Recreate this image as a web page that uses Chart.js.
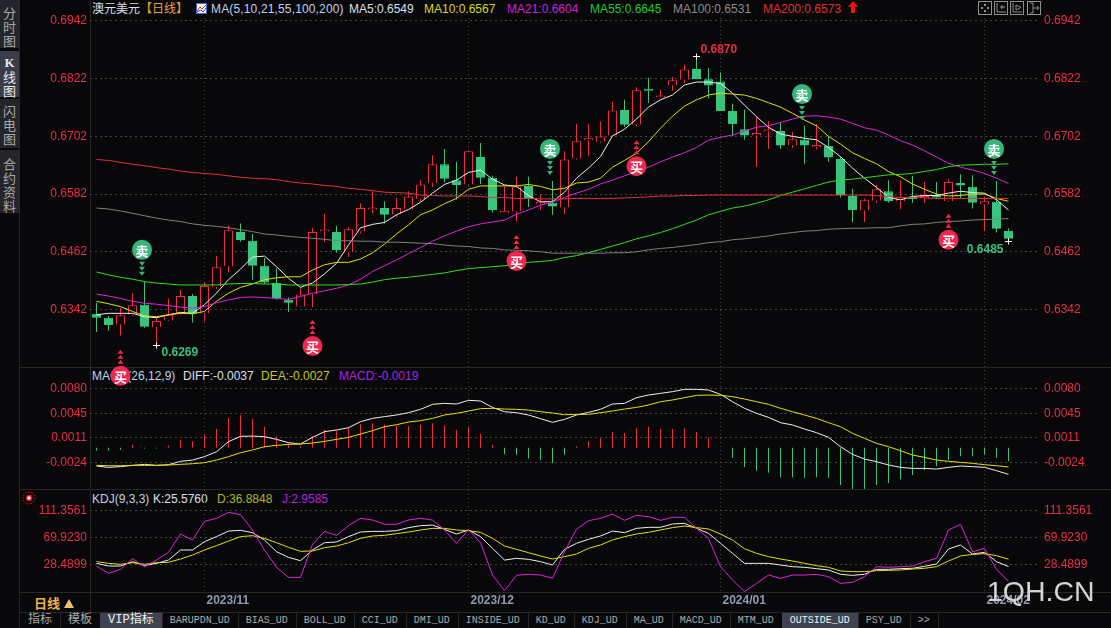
<!DOCTYPE html>
<html>
<head>
<meta charset="utf-8">
<title>澳元美元 日线</title>
<script src="https://cdn.jsdelivr.net/npm/chart.js@4"></script>
<style>
html, body { margin: 0; padding: 0; background: #08080a; overflow: hidden; }
body { width: 1111px; height: 628px; position: relative; font: 12px "Liberation Sans", "Noto Sans CJK SC", sans-serif; }
canvas { position: absolute; left: 0; top: 0; z-index: 2; }
.t { position: absolute; white-space: nowrap; line-height: 14px; z-index: 1; }
.side { position: absolute; left: 0; width: 19px; background: #24252b; color: #a8a8a8; text-align: center; font: 13px/14px "Noto Sans CJK SC"; z-index: 1; box-sizing: border-box; }
.hl { position: absolute; background: #262626; height: 1px; left: 20px; right: 0; z-index: 0; }
.vl { position: absolute; background: #262626; width: 1px; z-index: 0; }
#tabs { position: absolute; left: 20px; top: 613px; height: 15px; display: flex; z-index: 1; font: 10px/15px "Liberation Mono", "Noto Sans CJK SC"; color: #a8a8a8; }
#tabs div { padding: 0 8px; border-right: 1px solid #262626; margin-right: -1px; }
#tabs div.cn { font-size: 12px; }
#tabs div.on { background: #3f424f; color: #f0f0f0; }
#mark { position: absolute; left: 987px; top: 574px; font: 28.5px/34px "Liberation Sans"; color: #d4d4d4; z-index: 3; }
svg { position: absolute; z-index: 1; }
</style>
</head>
<body>
<div class="side" style="top:0;height:48px;padding-top:6px">分<br>时<br>图</div>
<div class="side" style="top:51px;height:46px;padding-top:4px;background:#3a3c47;color:#e8e8e8"><b style="font-family:'Liberation Serif'">K</b><br>线<br>图</div>
<div class="side" style="top:99px;height:49px;padding-top:5px">闪<br>电<br>图</div>
<div class="side" style="top:150px;height:63px;padding-top:7px">合<br>约<br>资<br>料</div>
<div class="vl" style="left:19px;top:0;height:628px"></div>
<div class="vl" style="left:90px;top:0;height:612px"></div>
<div class="hl" style="top:367px"></div>
<div class="hl" style="top:489px"></div>
<div class="hl" style="top:592px"></div>
<div class="hl" style="top:612px"></div>

<span class="t" style="left:92px;top:2px;color:#d8e0ea">澳元美元</span>
<span class="t" style="left:140px;top:2px;color:#e8a23a">【日线】</span>
<svg style="left:196px;top:3px" width="11" height="11"><rect x=".5" y=".5" width="10" height="10" fill="#fff" stroke="#4060c0"/><path d="M1 8 4 4 6 6 10 2" stroke="#e02020" fill="none"/><path d="M1 9 5 7 7 9 10 5" stroke="#2040c0" fill="none"/></svg>
<span class="t" style="left:211px;top:2px;color:#bcd2ea;letter-spacing:.15px">MA(5,10,21,55,100,200)</span>
<span class="t" style="left:349px;top:2px;color:#d8e0ea">MA5:0.6549</span>
<span class="t" style="left:424px;top:2px;color:#d8d820">MA10:0.6567</span>
<span class="t" style="left:507px;top:2px;color:#d020d8">MA21:0.6604</span>
<span class="t" style="left:590px;top:2px;color:#20c830">MA55:0.6645</span>
<span class="t" style="left:673px;top:2px;color:#8c8c8c">MA100:0.6531</span>
<span class="t" style="left:763px;top:2px;color:#e03030">MA200:0.6573</span>
<svg style="left:848px;top:1px" width="10" height="12"><path d="M5 0 10 6H7V12H3V6H0Z" fill="#f01010"/></svg>
<svg style="left:978px;top:1px" width="64" height="15" fill="none" stroke="#909090">
<rect x=".5" y=".5" width="13" height="13"/><rect x="16.5" y=".5" width="13" height="13"/><rect x="32.5" y=".5" width="13" height="13"/><rect x="49.5" y=".5" width="13" height="13"/>
<path d="M7 3V5M7 9V11M3 7H5M9 7H11" stroke-width="2"/>
<path d="M19 2V11H28M22 6H27M24 4V8"/><path d="M35 2V11H44M38 4V9L43 6.5Z"/><path d="M52 2H55V12H52M55 7H61M59 5 61 7 59 9"/>
</svg>

<span class="t" style="left:92px;top:369px;color:#bcd2ea">MACD(26,12,9)</span>
<span class="t" style="left:183px;top:369px;color:#d8e0ea">DIFF:-0.0037</span>
<span class="t" style="left:261px;top:369px;color:#c8c820">DEA:-0.0027</span>
<span class="t" style="left:339px;top:369px;color:#b020e0">MACD:-0.0019</span>

<svg style="left:22px;top:491px" width="14" height="14"><circle cx="7" cy="7" r="2.5" fill="#fff" stroke="#f01010" stroke-width="1.5"/><circle cx="7" cy="7" r="6" fill="none" stroke="#f01010" stroke-dasharray="1.5 1.5"/></svg>
<span class="t" style="left:92px;top:492px;color:#bcd2ea">KDJ(9,3,3)</span>
<span class="t" style="left:153px;top:492px;color:#d8e0ea">K:25.5760</span>
<span class="t" style="left:217px;top:492px;color:#a8b820">D:36.8848</span>
<span class="t" style="left:282px;top:492px;color:#b020e0">J:2.9585</span>

<span class="t" style="left:34px;top:596px;color:#f0b050;font:bold 13px/14px 'Noto Sans CJK SC'">日线</span>
<svg style="left:64px;top:599px" width="10" height="9"><path d="M5 0 10 9H0Z" fill="#f0c070"/></svg>

<div id="tabs"><div class="cn">指标</div><div class="cn">模板</div><div class="cn on">VIP指标</div><div>BARUPDN_UD</div><div>BIAS_UD</div><div>BOLL_UD</div><div>CCI_UD</div><div>DMI_UD</div><div>INSIDE_UD</div><div>KD_UD</div><div>KDJ_UD</div><div>MA_UD</div><div>MACD_UD</div><div>MTM_UD</div><div class="on">OUTSIDE_UD</div><div>PSY_UD</div><div>&gt;&gt;</div></div>
<div id="mark">1QH.CN</div>

<canvas id="kline" width="1111" height="628"></canvas>

<script>
// candles
var opens = [.6333,.6325,.6311,.6331,.6352,.6305,.6319,.6333,.6370,.6334,
  .6388,.6432,.6503,.6485,.6433,.6397,.6362,.6348,.6374,.6504,
  .6503,.6461,.6504,.6550,.6553,.6540,.6551,.6572,.6605,.6644,
  .6611,.6602,.6659,.6616,.6543,.6546,.6599,.6562,.6564,.6554,
  .6656,.6694,.6691,.6704,.6757,.6726,.6798,.6783,.6808,.6820,
  .6842,.6821,.6816,.6755,.6717,.6704,.6712,.6713,.6683,.6695,
  .6680,.6682,.6655,.6578,.6548,.6568,.6588,.6567,.6577,.6573,
  .6580,.6567,.6605,.6597,.6561,.6566,.6505];
var closes = [.6325,.6310,.6330,.6351,.6306,.6318,.6331,.6370,.6333,.6391,
  .6430,.6507,.6486,.6433,.6398,.6365,.6356,.6373,.6503,.6505,
  .6465,.6509,.6553,.6553,.6539,.6553,.6577,.6602,.6644,.6614,
  .6601,.6671,.6616,.6549,.6546,.6598,.6573,.6564,.6556,.6654,
  .6692,.6698,.6702,.6756,.6726,.6798,.6797,.6787,.6819,.6841,
  .6821,.6808,.6755,.6728,.6704,.6709,.6715,.6683,.6696,.6683,
  .6682,.6658,.6580,.6549,.6569,.6592,.6567,.6575,.6572,.6578,
  .6575,.6607,.6600,.6564,.6567,.6510,.6489];
var highs = [.6356,.6329,.6345,.6376,.6400,.6325,.6365,.6383,.6374,.6399,
  .6453,.6517,.6521,.6499,.6449,.6428,.6367,.6386,.6511,.6541,
  .6516,.6513,.6563,.6588,.6567,.6574,.6588,.6611,.6663,.6676,
  .6649,.6672,.6688,.6620,.6598,.6618,.6618,.6580,.6609,.6671,
  .6728,.6728,.6733,.6774,.6778,.6804,.6824,.6799,.6826,.6851,
  .6870,.6844,.6835,.6770,.6758,.6743,.6734,.6731,.6711,.6724,
  .6728,.6702,.6660,.6593,.6573,.6601,.6611,.6611,.6620,.6607,
  .6607,.6613,.6623,.6621,.6577,.6609,.6511];
var lows = [.6295,.6298,.6288,.6329,.6304,.6269,.6318,.6331,.6315,.6317,
  .6385,.6419,.6483,.6404,.6395,.6362,.6337,.6348,.6347,.6483,
  .6460,.6451,.6500,.6542,.6521,.6535,.6550,.6566,.6596,.6606,
  .6571,.6600,.6603,.6543,.6543,.6525,.6555,.6549,.6539,.6541,
  .6654,.6661,.6689,.6703,.6722,.6723,.6772,.6783,.6797,.6813,
  .6821,.6781,.6755,.6703,.6695,.6639,.6676,.6676,.6678,.6645,
  .6675,.6649,.6575,.6524,.6524,.6564,.6564,.6551,.6564,.6564,
  .6573,.6566,.6573,.6552,.6505,.6502,.6485];

// moving averages
var ma5 = [.6331,.6334,.6334,.6334,.6327,.6325,.6331,.6336,.6334,.6352,
  .6376,.6404,.6426,.6451,.6453,.6431,.6407,.6388,.6397,.6416,
  .6438,.6476,.6512,.6519,.6523,.6539,.6550,.6565,.6584,.6602,
  .6611,.6627,.6632,.6613,.6601,.6598,.6579,.6566,.6566,.6586,
  .6615,.6636,.6660,.6703,.6717,.6738,.6763,.6778,.6788,.6809,
  .6815,.6815,.6812,.6792,.6767,.6743,.6721,.6707,.6702,.6698,
  .6695,.6679,.6660,.6636,.6615,.6596,.6575,.6570,.6577,.6579,
  .6579,.6584,.6588,.6585,.6584,.6570,.6549];
var ma10 = [.6359,.6354,.6348,.6338,.6329,.6327,.6331,.6334,.6333,.6338,
  .6359,.6376,.6388,.6395,.6404,.6408,.6410,.6410,.6424,.6435,
  .6440,.6440,.6447,.6460,.6478,.6499,.6518,.6539,.6549,.6562,
  .6573,.6592,.6599,.6599,.6599,.6599,.6602,.6598,.6591,.6594,
  .6605,.6607,.6615,.6638,.6652,.6667,.6691,.6719,.6744,.6765,
  .6778,.6788,.6792,.6790,.6788,.6781,.6772,.6763,.6750,.6736,
  .6724,.6702,.6686,.6668,.6656,.6645,.6629,.6618,.6603,.6592,
  .6582,.6578,.6579,.6582,.6582,.6573,.6567];
var ma21 = [.6374,.6370,.6365,.6359,.6355,.6353,.6350,.6347,.6345,.6348,
  .6356,.6362,.6367,.6368,.6367,.6365,.6363,.6369,.6376,.6381,
  .6386,.6393,.6405,.6421,.6433,.6445,.6458,.6471,.6484,.6495,
  .6505,.6514,.6520,.6524,.6528,.6540,.6549,.6559,.6565,.6575,
  .6584,.6592,.6603,.6611,.6620,.6629,.6638,.6649,.6659,.6668,
  .6679,.6694,.6700,.6705,.6713,.6721,.6724,.6731,.6738,.6744,
  .6745,.6742,.6738,.6729,.6720,.6715,.6705,.6693,.6684,.6672,
  .6659,.6646,.6638,.6632,.6625,.6615,.6604];
var ma55 = [.6420,.6414,.6409,.6405,.6400,.6397,.6395,.6393,.6393,.6393,
  .6393,.6395,.6396,.6396,.6395,.6395,.6393,.6393,.6393,.6393,
  .6393,.6394,.6395,.6399,.6404,.6407,.6409,.6412,.6415,.6418,
  .6423,.6427,.6429,.6431,.6433,.6436,.6440,.6442,.6444,.6450,
  .6454,.6460,.6467,.6474,.6481,.6489,.6495,.6502,.6510,.6519,
  .6528,.6539,.6546,.6553,.6557,.6563,.6570,.6579,.6586,.6593,
  .6600,.6607,.6611,.6613,.6616,.6619,.6622,.6623,.6625,.6629,
  .6633,.6639,.6642,.6643,.6644,.6644,.6645];
var ma100 = [.6553,.6551,.6547,.6542,.6537,.6532,.6528,.6525,.6520,.6517,
  .6515,.6512,.6508,.6504,.6499,.6497,.6494,.6492,.6490,.6488,
  .6485,.6485,.6484,.6484,.6482,.6482,.6481,.6480,.6479,.6476,
  .6474,.6473,.6470,.6469,.6466,.6465,.6464,.6462,.6459,.6459,
  .6459,.6459,.6459,.6460,.6460,.6462,.6466,.6469,.6471,.6474,
  .6477,.6481,.6483,.6487,.6489,.6492,.6495,.6499,.6502,.6505,
  .6506,.6509,.6510,.6511,.6511,.6512,.6512,.6516,.6519,.6520,
  .6523,.6525,.6526,.6528,.6529,.6530,.6531];
var ma200 = [.6654,.6652,.6648,.6644,.6641,.6637,.6634,.6630,.6627,.6625,
  .6623,.6620,.6617,.6615,.6614,.6612,.6608,.6605,.6603,.6600,
  .6598,.6594,.6592,.6589,.6586,.6585,.6584,.6580,.6579,.6578,
  .6578,.6578,.6577,.6575,.6575,.6573,.6573,.6572,.6572,.6572,
  .6573,.6573,.6573,.6573,.6574,.6575,.6576,.6578,.6578,.6579,
  .6579,.6580,.6580,.6580,.6580,.6580,.6580,.6580,.6580,.6580,
  .6580,.6580,.6580,.6580,.6580,.6579,.6577,.6575,.6575,.6574,
  .6573,.6573,.6573,.6573,.6573,.6573,.6573];

// MACD panel
var macdHist = [-.0004,-.0004,-.0003,.0004,-.0001,-.0001,.0003,.0011,.0009,.0018,
  .0026,.0041,.0045,.0040,.0029,.0016,.0006,.0002,.0016,.0025,
  .0024,.0028,.0033,.0034,.0032,.0031,.0030,.0032,.0034,.0031,
  .0025,.0028,.0019,.0004,-.0009,-.0010,-.0015,-.0017,-.0021,-.0010,
  .0002,.0009,.0013,.0022,.0020,.0027,.0029,.0026,.0026,.0027,
  .0022,.0014,0,-.0014,-.0027,-.0032,-.0035,-.0041,-.0041,-.0042,
  -.0041,-.0042,-.0052,-.0058,-.0058,-.0052,-.0049,-.0044,-.0038,-.0031,
  -.0026,-.0017,-.0012,-.0012,-.0009,-.0014,-.0019];
var diff = [-.00255,-.00274,-.00264,-.00246,-.00232,-.00246,-.00237,-.00190,-.00172,-.00125,
  -.00056,.00084,.00158,.00162,.00153,.00116,.00070,.00051,.00144,.00223,
  .00246,.00278,.00362,.00408,.00432,.00455,.00487,.00534,.00603,.00617,
  .00608,.00659,.00650,.00561,.00501,.00487,.00455,.00404,.00353,.00394,
  .00455,.00492,.00534,.00608,.00617,.00696,.00733,.00756,.00780,.00812,
  .00812,.00803,.00742,.00640,.00548,.00478,.00422,.00348,.00316,.00260,
  .00209,.00144,.00014,-.00093,-.00158,-.00195,-.00241,-.00274,-.00288,-.00288,
  -.00297,-.00274,-.00255,-.00264,-.00274,-.00320,-.00371];
var dea = [-.00246,-.00251,-.00251,-.00246,-.00246,-.00246,-.00241,-.00232,-.00223,-.00209,
  -.00172,-.00125,-.00070,-.00032,.00014,.00032,.00046,.00051,.00065,.00088,
  .00116,.00144,.00190,.00237,.00292,.00320,.00357,.00376,.00408,.00455,
  .00478,.00510,.00543,.00548,.00538,.00534,.00524,.00501,.00483,.00459,
  .00464,.00464,.00487,.00510,.00538,.00561,.00594,.00640,.00664,.00696,
  .00728,.00733,.00728,.00710,.00677,.00640,.00603,.00548,.00501,.00455,
  .00408,.00348,.00292,.00200,.00130,.00060,.00014,-.00042,-.00102,-.00135,
  -.00172,-.00190,-.00204,-.00218,-.00237,-.00251,-.00269];

// KDJ panel
var kLine = [30.5,26.4,26.4,33.1,27.0,30.5,35.6,51.0,51.0,63.8,
  71.5,80.1,81.2,77.6,66.3,48.4,39.7,34.6,51.0,62.2,
  63.3,71.5,78.6,79.6,79.6,80.7,85.3,88.3,89.3,82.7,
  75.5,81.7,71.5,53.6,35.6,38.2,36.7,33.1,28.0,52.0,
  61.2,67.4,72.5,80.1,77.6,84.2,85.8,85.8,90.9,91.9,
  84.2,76.6,61.2,45.9,30.5,30.5,30.5,28.0,25.4,24.4,
  22.4,20.3,13.7,12.1,13.7,21.3,21.3,22.4,22.9,25.9,
  29.5,52.5,58.7,44.9,47.4,33.1,25.6];
var dLine = [33.1,30.5,29.0,31.6,29.0,31.6,32.1,37.2,43.3,51.0,
  57.6,64.8,71.5,73.0,68.9,62.2,55.1,49.0,49.5,54.6,
  57.1,62.2,68.9,72.5,73.5,76.1,78.6,81.7,84.2,84.2,
  81.7,80.7,78.1,68.9,57.1,52.0,46.9,41.8,37.2,40.8,
  44.9,53.6,58.7,66.3,71.5,75.5,78.1,81.7,85.3,87.8,
  85.3,83.2,75.5,66.3,53.0,45.9,40.8,37.2,34.1,30.5,
  27.0,24.4,18.8,17.8,17.8,19.3,19.8,20.3,21.8,22.9,
  25.4,34.1,41.8,44.3,45.4,42.3,36.9];
var jLine = [26.4,15.2,21.3,37.7,25.4,35.6,47.4,75.5,66.3,95.0,
  99.6,108.8,105.2,81.7,51.0,24.4,9.0,9.0,59.7,79.6,
  73.5,88.3,99.6,97.0,90.4,90.4,97.0,99.6,97.0,81.7,
  61.2,81.7,62.2,12.6,-11.4,12.1,13.7,12.6,7.5,48.4,
  82.7,96.0,99.6,106.2,96.5,104.2,102.1,96.5,101.1,101.1,
  84.2,68.9,25.4,4.9,-12.9,-0.2,12.6,7.5,12.6,12.6,
  13.7,10.1,-0.2,1.4,10.1,25.4,24.4,25.4,26.4,33.1,
  38.2,81.7,90.4,48.4,53.6,21.3,3.0];

// axis ticks
var priceTicks = [.6942,.6822,.6702,.6582,.6462,.6342];
var priceLabels = ['0.6942','0.6822','0.6702','0.6582','0.6462','0.6342'];
// the terminal draws these four labels about 2px above their true level
var macdTicks = [.00827,.00479,.00139,-.00209];
var macdLabels = ['0.0080','0.0045','0.0011','-0.0024'];
var kdjTicks = [111.3561,69.9230,28.4899];
var kdjLabels = ['111.3561','69.9230','28.4899'];
var dateTicks = [9,31,52,74];
var dateLabels = ['2023/11','2023/12','2024/01','2024/02'];

// signals and extremes on the price panel
var buyIdx = [2,18,35,45,71];
var buyPrice = [.6204,.6266,.6443,.6640,.6487];
var sellIdx = [4,38,59,75];
var sellPrice = [.6466,.6676,.6790,.6676];
var markIdx = [5,50,76];
var markPrice = [.6269,.6870,.6485];

var RED = '#ee2b45', GREEN = '#38c47e', BG = '#08080a', GRID = '#444444';

function pts(arr) { return arr.map(function (v, i) { return { x: i, y: v }; }); }
function candle(a, b) { return opens.map(function (v, i) { return { x: i, y: [a[i], b[i]] }; }); }
function isUp(i) { return closes[i] >= opens[i]; }

function line(arr, color, axis) {
    return { type: 'line', data: pts(arr), borderColor: color, borderWidth: 1, pointRadius: 0, tension: 0, yAxisID: axis, order: 1 };
}

function yAxis(pos, stackOrder, weight, min, max, ticks, labels) {
    return {
        type: 'linear', position: pos, stack: 'panels', stackWeight: weight, weight: stackOrder,
        min: min, max: max,
        afterBuildTicks: function (s) { s.ticks = ticks.map(function (v) { return { value: v }; }); },
        afterFit: function (s) { s.width = pos == 'left' ? 90 : 71; },
        ticks: { color: RED, autoSkip: false, padding: pos == 'left' ? 3 : 4, font: { family: 'Liberation Sans', size: 12 },
            callback: function (v, i) { return labels[i]; } },
        grid: { display: pos == 'left', color: GRID, drawTicks: false },
        border: { display: false, dash: [2, 3] }
    };
}

// buy / sell bubbles, the white ticks at extremes and their prices
var marksPlugin = {
    id: 'marks',
    afterDatasetsDraw: function (chart) {
        var c = chart.ctx, xs = chart.scales.x, ys = chart.scales.y;
        c.save();
        markIdx.forEach(function (ix, n) {
            var x = xs.getPixelForValue(ix), y = Math.round(ys.getPixelForValue(markPrice[n])) + .5;
            c.strokeStyle = '#fff';
            c.lineWidth = 1;
            c.beginPath();
            c.moveTo(x - 3.5, y); c.lineTo(x + 3.5, y);
            c.moveTo(x, y - 3); c.lineTo(x, y + 3);
            c.stroke();
            c.font = 'bold 12px "Liberation Sans"';
            c.textBaseline = 'middle';
            c.textAlign = 'left';
            if (ix == 50) { c.fillStyle = RED; c.fillText(markPrice[n].toFixed(4), x + 4, y - 7); }
            else if (ix == 5) { c.fillStyle = GREEN; c.fillText(markPrice[n].toFixed(4), x + 5, y + 7); }
            else { c.fillStyle = GREEN; c.textAlign = 'right'; c.fillText(markPrice[n].toFixed(4), x - 5, y + 8); }
        });
        function bubble(ix, price, color, text, dirn, dx) {
            var x = xs.getPixelForValue(ix) + dx, y = ys.getPixelForValue(price);
            c.fillStyle = color;
            [1, 2, 3].forEach(function (k) {
                var ay = y + dirn * (9 + k * 5);
                c.beginPath();
                c.moveTo(x - 3, ay - dirn * 2);
                c.lineTo(x + 3, ay - dirn * 2);
                c.lineTo(x, ay + dirn * 2);
                c.closePath();
                c.fill();
            });
            c.beginPath();
            c.arc(x, y, 10, 0, Math.PI * 2);
            c.fill();
            c.fillStyle = '#fff';
            c.font = 'bold 13px "Noto Sans CJK SC"';
            c.textAlign = 'center';
            c.textBaseline = 'middle';
            c.fillText(text, x, y + 1);
        }
        buyIdx.forEach(function (ix, n) { bubble(ix, buyPrice[n], '#f0274f', '买', -1, 0); });
        sellIdx.forEach(function (ix, n) { bubble(ix, sellPrice[n], '#38b57a', '卖', 1, -2.5); });
        c.restore();
    }
};

var chart = new Chart(document.getElementById('kline').getContext('2d'), {
    data: {
        datasets: [
            // wicks go first so the hollow bodies cover them
            { type: 'bar', data: candle(lows, highs), barThickness: 1, barPercentage: 1, inflateAmount: 0, grouped: false, yAxisID: 'y', order: 4,
              backgroundColor: function (ctx) { return isUp(ctx.dataIndex) ? RED : GREEN; } },
            { type: 'bar', data: candle(opens, closes), barThickness: 9, barPercentage: 1, inflateAmount: 0, grouped: false, yAxisID: 'y', order: 3, borderWidth: 1, minBarLength: 2,
              borderColor: function (ctx) { return isUp(ctx.dataIndex) ? RED : GREEN; },
              backgroundColor: function (ctx) { return isUp(ctx.dataIndex) ? BG : GREEN; } },
            line(ma200, '#e83232', 'y'),
            line(ma100, '#808080', 'y'),
            line(ma55, '#30e014', 'y'),
            line(ma21, '#e022e0', 'y'),
            line(ma10, '#e8e000', 'y'),
            line(ma5, '#f0f0f0', 'y'),
            { type: 'bar', data: pts(macdHist), barThickness: 1, barPercentage: 1, inflateAmount: 0, grouped: false, yAxisID: 'm', order: 3,
              backgroundColor: function (ctx) { return macdHist[ctx.dataIndex] >= 0 ? RED : GREEN; } },
            line(dea, '#e8e000', 'm'),
            line(diff, '#f0f0f0', 'm'),
            line(jLine, '#e022e0', 'k'),
            line(dLine, '#e8e000', 'k'),
            line(kLine, '#f0f0f0', 'k')
        ]
    },
    options: {
        responsive: false,
        animation: false,
        events: [],
        layout: { padding: { top: 18, bottom: 16, left: 0, right: 0 } },
        plugins: { legend: { display: false }, tooltip: { enabled: false } },
        scales: {
            x: {
                type: 'linear', min: -6.5 / 12, max: 943.5 / 12, offset: false,
                afterBuildTicks: function (s) { s.ticks = dateTicks.map(function (v) { return { value: v }; }); },
                afterFit: function (s) { s.height = 20; },
                ticks: { autoSkip: false, maxRotation: 0, align: 'start', labelOffset: 2, padding: 1, color: '#8f9bad',
                    font: { family: 'Liberation Sans', size: 12, weight: 'bold' },
                    callback: function (v) { return dateLabels[dateTicks.indexOf(v)]; } },
                grid: { color: GRID, drawTicks: false, offset: false },
                border: { display: false, dash: [1, 3] }
            },
            y: yAxis('left', 3, 349, .62224, .69482, priceTicks, priceLabels),
            m: yAxis('left', 2, 122, -.00575, .01123, macdTicks, macdLabels),
            k: yAxis('left', 1, 103, -13.45, 144.6, kdjTicks, kdjLabels),
            yR: yAxis('right', 1, 349, .62224, .69482, priceTicks, priceLabels),
            mR: yAxis('right', 2, 122, -.00575, .01123, macdTicks, macdLabels),
            kR: yAxis('right', 3, 103, -13.45, 144.6, kdjTicks, kdjLabels)
        }
    },
    plugins: [marksPlugin]
});
</script>
</body>
</html>
